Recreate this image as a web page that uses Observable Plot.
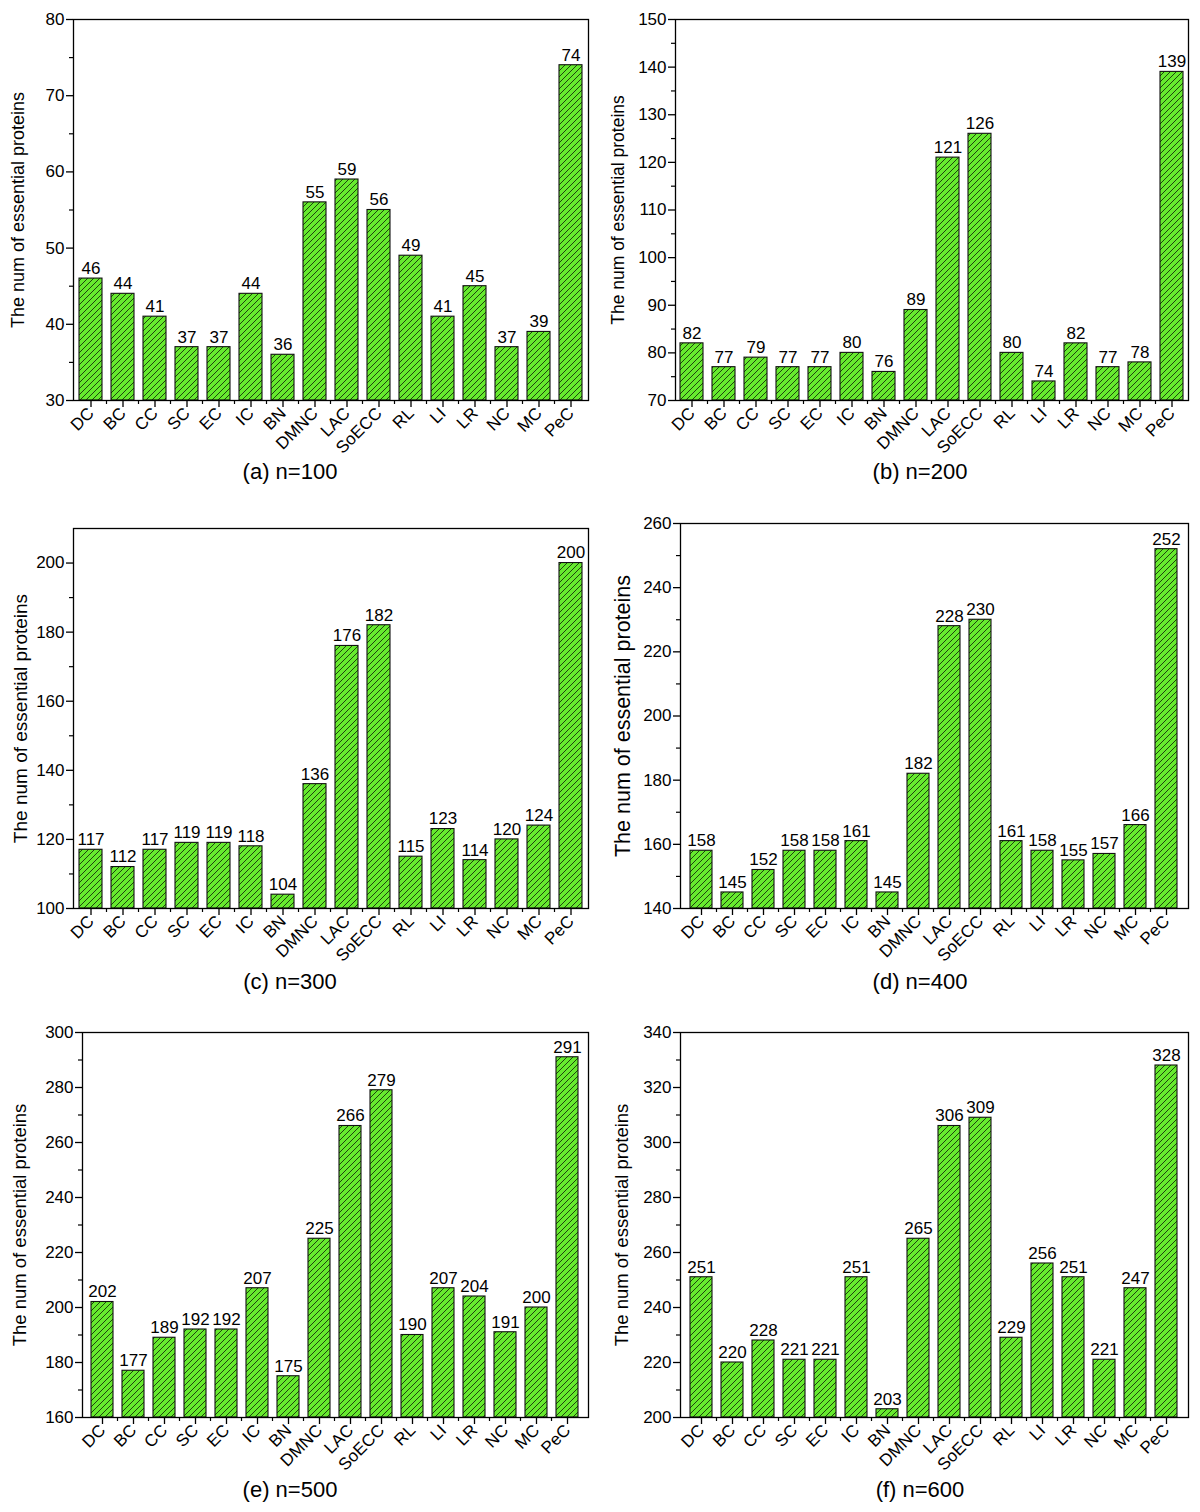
<!DOCTYPE html>
<html><head><meta charset="utf-8">
<script src="https://cdn.jsdelivr.net/npm/d3@7"></script>
<script src="https://cdn.jsdelivr.net/npm/@observablehq/plot@0.6"></script>
<style>
body{margin:0;background:#fff;font-family:"Liberation Sans",Arial,sans-serif;}
#wrap{position:relative;width:1200px;height:1512px;overflow:hidden;background:#fff}
.panel{position:absolute}
.cap{position:absolute;font-size:22px;text-align:center;color:#000;line-height:1;white-space:nowrap}
</style></head><body><div id="wrap"></div>
<script>
// ---------- data ----------
const categories = ["DC","BC","CC","SC","EC","IC","BN","DMNC","LAC","SoECC","RL","LI","LR","NC","MC","PeC"];
const yTitle = "The num of essential proteins";

const valuesA = [46,44,41,37,37,44,36,56,59,55,49,41,45,37,39,74];
const labelsA = [46,44,41,37,37,44,36,55,59,56,49,41,45,37,39,74];
const valuesB = [82,77,79,77,77,80,76,89,121,126,80,74,82,77,78,139];
const labelsB = valuesB;
const valuesC = [117,112,117,119,119,118,104,136,176,182,115,123,114,120,124,200];
const labelsC = valuesC;
const valuesD = [158,145,152,158,158,161,145,182,228,230,161,158,155,157,166,252];
const labelsD = valuesD;
const valuesE = [202,177,189,192,192,207,175,225,266,279,190,207,204,191,200,291];
const labelsE = valuesE;
const valuesF = [251,220,228,221,221,251,203,265,306,309,229,256,251,221,247,328];
const labelsF = valuesF;

const ticksA = [30,40,50,60,70,80];          const minorA = [35,45,55,65,75];
const ticksB = [70,80,90,100,110,120,130,140,150]; const minorB = [75,85,95,105,115,125,135,145];
const ticksC = [100,120,140,160,180,200];    const minorC = [110,130,150,170,190];
const ticksD = [140,160,180,200,220,240,260]; const minorD = [150,170,190,210,230,250];
const ticksE = [160,180,200,220,240,260,280,300]; const minorE = [170,190,210,230,250,270,290];
const ticksF = [200,220,240,260,280,300,320,340]; const minorF = [210,230,250,270,290,310,330];

const captions = ["(a) n=100","(b) n=200","(c) n=300","(d) n=400","(e) n=500","(f) n=600"];

// ---------- drawing ----------
const NS = "http://www.w3.org/2000/svg";
const wrap = document.getElementById("wrap");

function panel(cfg) {
  const data = categories.map((c, i) => ({cat: c, v: cfg.vals[i], t: String(cfg.labels[i])}));
  const pid = "hatch-" + cfg.id;
  const defs = () => {
    const d = document.createElementNS(NS, "defs");
    d.innerHTML = `<pattern id="${pid}" patternUnits="userSpaceOnUse" width="6" height="6">
      <rect width="6" height="6" fill="#66ea2e"/>
      <path d="M-1,1 L1,-1 M0,6 L6,0 M5,7 L7,5" stroke="#16300a" stroke-width="0.9"/>
    </pattern>`;
    return d;
  };
  const midTicks = (index, scales, values, dims) => {
    const x = scales.x;
    const bw = x.bandwidth ? x.bandwidth() : 0;
    const yb = dims.height - dims.marginBottom;
    const g = document.createElementNS(NS, "g");
    g.setAttribute("stroke", "black");
    g.setAttribute("stroke-width", "1.2");
    for (let i = 1; i < categories.length; i++) {
      const xm = (x(categories[i - 1]) + bw + x(categories[i])) / 2;
      const l = document.createElementNS(NS, "line");
      l.setAttribute("x1", xm); l.setAttribute("x2", xm);
      l.setAttribute("y1", yb); l.setAttribute("y2", yb + 4);
      g.appendChild(l);
    }
    return g;
  };
  const lo = cfg.domain[0];
  const chart = Plot.plot({
    width: 600, height: cfg.h,
    marginLeft: cfg.ml, marginRight: cfg.mr, marginTop: cfg.mt, marginBottom: cfg.mb,
    style: {fontFamily: "'Liberation Sans', Arial, sans-serif", fontSize: "17px", color: "black", background: "white", overflow: "visible"},
    x: {domain: categories, paddingInner: 0.29, paddingOuter: 0.15, label: null},
    y: {domain: cfg.domain, label: null},
    marks: [
      defs,
      Plot.barY(data, {x: "cat", y1: lo, y2: "v", fill: `url(#${pid})`, stroke: "#111", strokeWidth: 1.1}),
      Plot.text(data, {x: "cat", y: "v", text: "t", dy: -10, fontSize: 17, fill: "black"}),
      Plot.frame({stroke: "black", strokeWidth: 1.3}),
      Plot.axisY({ticks: cfg.ticks, tickSize: 7, tickPadding: 2, fontSize: 17, label: null, strokeWidth: 1.3, tickFormat: d => String(d)}),
      Plot.axisY({ticks: cfg.minor, tickSize: 4, tickFormat: () => "", label: null, strokeWidth: 1.2}),
      Plot.axisX({tickSize: 7, tickPadding: 3, tickRotate: -45, fontSize: 17, label: null, strokeWidth: 1.3}),
      midTicks,
      Plot.text([yTitle], {frameAnchor: "left", textAnchor: "middle", rotate: -90, dx: cfg.titleX - cfg.ml, fontSize: cfg.titleSize, fill: "black"})
    ]
  });
  const div = document.createElement("div");
  div.className = "panel";
  div.style.left = cfg.left + "px";
  div.style.top = cfg.top + "px";
  div.appendChild(chart);
  wrap.appendChild(div);

  const cap = document.createElement("div");
  cap.className = "cap";
  cap.textContent = cfg.caption;
  cap.style.left = (cfg.capX - 150) + "px";
  cap.style.width = "300px";
  cap.style.top = (cfg.capY - 11) + "px";
  wrap.appendChild(cap);
}

panel({id: "a", vals: valuesA, labels: labelsA, domain: [30, 80], ticks: ticksA, minor: minorA,
  left: 0, top: 0, h: 500, ml: 73, mr: 12, mt: 19, mb: 100, titleX: 18, titleSize: 18, caption: captions[0], capX: 290, capY: 472});
panel({id: "b", vals: valuesB, labels: labelsB, domain: [70, 150], ticks: ticksB, minor: minorB,
  left: 600, top: 0, h: 500, ml: 75, mr: 12, mt: 19, mb: 100, titleX: 18, titleSize: 17.5, caption: captions[1], capX: 920, capY: 472});
panel({id: "c", vals: valuesC, labels: labelsC, domain: [100, 210], ticks: ticksC, minor: minorC,
  left: 0, top: 500, h: 510, ml: 73, mr: 12, mt: 28, mb: 102, titleX: 20, titleSize: 19, caption: captions[2], capX: 290, capY: 982});
panel({id: "d", vals: valuesD, labels: labelsD, domain: [140, 260], ticks: ticksD, minor: minorD,
  left: 600, top: 500, h: 510, ml: 80, mr: 12, mt: 23, mb: 102, titleX: 23, titleSize: 21.5, caption: captions[3], capX: 920, capY: 982});
panel({id: "e", vals: valuesE, labels: labelsE, domain: [160, 300], ticks: ticksE, minor: minorE,
  left: 0, top: 1000, h: 512, ml: 82, mr: 12, mt: 32, mb: 95, titleX: 20, titleSize: 18.5, caption: captions[4], capX: 290, capY: 1490});
panel({id: "f", vals: valuesF, labels: labelsF, domain: [200, 340], ticks: ticksF, minor: minorF,
  left: 600, top: 1000, h: 512, ml: 80, mr: 12, mt: 32, mb: 95, titleX: 22, titleSize: 18.5, caption: captions[5], capX: 920, capY: 1490});
</script>
</body></html>
